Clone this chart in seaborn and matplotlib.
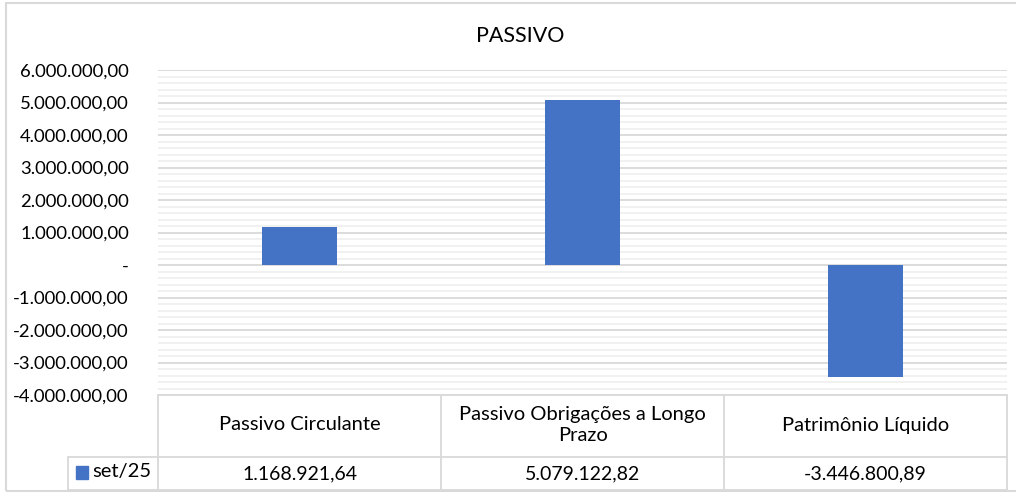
import matplotlib
matplotlib.use("Agg")
import matplotlib.pyplot as plt
import seaborn as sns
import pandas as pd
import numpy as np
from matplotlib.patches import Rectangle
from matplotlib.lines import Line2D

categories = ["Passivo Circulante", "Passivo Obrigações a Longo Prazo", "Patrimônio Líquido"]
category_labels = ["Passivo Circulante", "Passivo Obrigações a Longo\nPrazo", "Patrimônio Líquido"]
values = [1168921.64, 5079122.82, -3446800.89]
series_name = "set/25"
value_labels = ["1.168.921,64", "5.079.122,82", "-3.446.800,89"]
title = "PASSIVO"

sns.set_theme(style="white")
plt.rcParams['font.family'] = ['Lato', 'DejaVu Sans']

W, H = 1016, 492
fig = plt.figure(figsize=(W / 100, H / 100), dpi=100)
L, R, T, B = 158, 1007, 70, 395
ax = fig.add_axes([L / W, 1 - B / H, (R - L) / W, (B - T) / H])

df = pd.DataFrame({"cat": categories, "val": values})
sns.barplot(data=df, x="cat", y="val", ax=ax, color="#4472C4", width=0.265,
            saturation=1, edgecolor="none")

ax.set_ylim(-4e6, 6e6)
ax.set_xlim(-0.5, 2.5)
major = np.arange(-4e6, 6e6 + 1, 1e6)
minor = np.arange(-4e6, 6e6 + 1, 2e5)
ax.set_yticks(major)
ax.set_yticks(minor, minor=True)

def fmt(v):
    if abs(v) < 1:
        return "-"
    s = f"{abs(v):,.2f}".replace(",", "X").replace(".", ",").replace("X", ".")
    return ("-" if v < 0 else "") + s

ax.set_yticklabels([fmt(v) for v in major], fontsize=13.3, color="#000000")
ax.tick_params(axis="y", which="both", length=0, pad=21)
ax.set_xticks([])
ax.set_xlabel("")
ax.set_ylabel("")
for s in ax.spines.values():
    s.set_visible(False)
ax.grid(False)
ax.set_axisbelow(True)
for v in minor:
    if v not in major:
        ax.axhline(v, color="#efefef", lw=1.2, zorder=0)
for v in major:
    ax.axhline(v, color="#d9d9d9", lw=1.3, zorder=0.5)

fig.text(520 / W, 1 - 36 / H, title, ha="center", va="center", fontsize=15.5, color="#000000")

# data table
tc = "#d9d9d9"
def fy(y):
    return 1 - y / H
def fx(x):
    return x / W
ttop, tmid, tbot = 395, 457, 490
col_edges = [158, 441, 724, 1007]
lines = [
    ((158, 1007), (ttop, ttop)),
    ((68, 1007), (tmid, tmid)),
    ((68, 1007), (tbot, tbot)),
    ((68, 68), (tmid, tbot)),
]
for xe in col_edges:
    lines.append(((xe, xe), (ttop, tbot)))
for (xs, ys) in lines:
    fig.add_artist(Line2D([fx(xs[0]), fx(xs[1])], [fy(ys[0]), fy(ys[1])], color=tc, lw=1.3))

for i, lab in enumerate(category_labels):
    cx = (col_edges[i] + col_edges[i + 1]) / 2
    fig.text(fx(cx), fy(425), lab, ha="center", va="center", fontsize=14.5,
             color="#000000", linespacing=1.3)
    fig.text(fx(cx), fy(474), value_labels[i], ha="center", va="center", fontsize=14,
             color="#000000")

fig.add_artist(Rectangle((fx(76), fy(479)), 12 / W, 13 / H, color="#4472C4"))
fig.text(fx(92), fy(472), series_name, ha="left", va="center", fontsize=14.5, color="#000000")

# outer chart border
fig.add_artist(Rectangle((fx(6), fy(491)), 1.2, (491 - 3) / H, fill=False, ec="#d9d9d9", lw=1.5))

fig.savefig("out.png", dpi=100, facecolor="white")
